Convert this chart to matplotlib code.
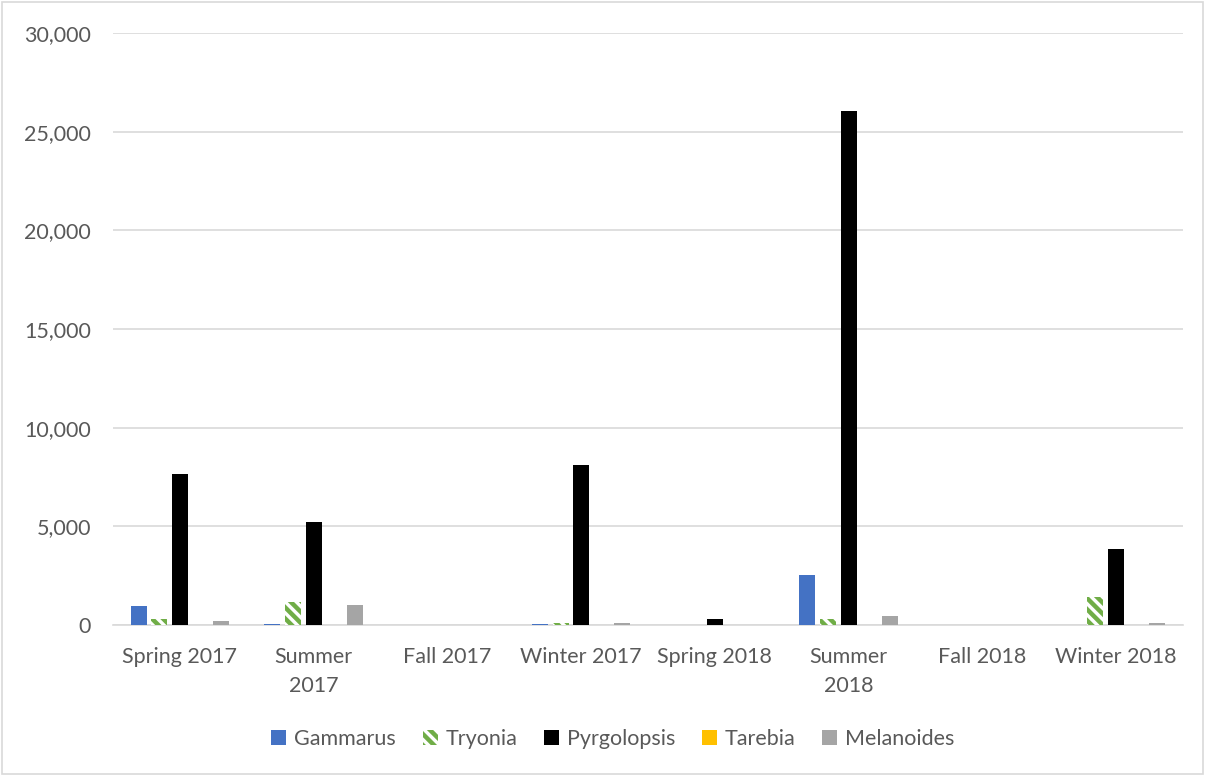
import matplotlib
matplotlib.use("Agg")
import matplotlib.pyplot as plt
import numpy as np
from matplotlib.ticker import FuncFormatter, MultipleLocator

categories = ["Spring 2017", "Summer\n2017", "Fall 2017", "Winter 2017",
              "Spring 2018", "Summer\n2018", "Fall 2018", "Winter 2018"]
series_names = ["Gammarus", "Tryonia", "Pyrgolopsis", "Tarebia", "Melanoides"]
gammarus = [950, 50, 0, 50, 0, 2530, 0, 0]
tryonia = [300, 1150, 0, 80, 0, 300, 0, 1400]
pyrgolopsis = [7650, 5220, 0, 8100, 300, 26050, 0, 3850]
tarebia = [0, 0, 0, 0, 0, 0, 0, 0]
melanoides = [220, 1030, 0, 100, 0, 470, 0, 80]

plt.rcParams['font.family'] = ['Lato', 'DejaVu Sans']
plt.rcParams['hatch.linewidth'] = 3.2

fig = plt.figure(figsize=(12.05, 7.76), dpi=100)
ax = fig.add_axes([0.0938, 0.1946, 0.8879, 0.7629])

x = np.arange(len(categories))
step = 20.6 / 133.75
width = 16 / 133.75
data = [gammarus, tryonia, pyrgolopsis, tarebia, melanoides]
colors = ["#4472C4", "white", "#000000", "#FFC000", "#A5A5A5"]
for i, (name, vals, c) in enumerate(zip(series_names, data, colors)):
    off = (i - 2) * step
    if name == "Tryonia":
        ax.bar(x + off, vals, width, facecolor="white", edgecolor="#70AD47",
               hatch="\\\\\\", linewidth=0, label=name, zorder=3)
    else:
        ax.bar(x + off, vals, width, color=c, label=name, zorder=3)

ax.set_xlim(-0.5, len(categories) - 0.5)
ax.set_ylim(0, 30000)
ax.yaxis.set_major_locator(MultipleLocator(5000))
ax.yaxis.set_major_formatter(FuncFormatter(lambda v, p: f"{int(v):,}"))
ax.set_xticks(x)
ax.set_xticklabels(categories, linespacing=1.55)
ax.grid(axis="y", color="#D9D9D9", linewidth=1.2, zorder=0)
for s in ["top", "right", "left"]:
    ax.spines[s].set_visible(False)
ax.spines["bottom"].set_color("#D9D9D9")
ax.spines["bottom"].set_linewidth(1.2)
ax.tick_params(axis="both", length=0, labelsize=15.5, labelcolor="#595959")
ax.tick_params(axis="y", pad=16)
ax.tick_params(axis="x", pad=16)

leg = ax.legend(loc="center", bbox_to_anchor=(0.467, -0.193), ncol=5, frameon=False,
                fontsize=15.5, handlelength=0.7, handleheight=0.7,
                handletextpad=0.35, columnspacing=1.25)
for t in leg.get_texts():
    t.set_color("#595959")

fig.patches.append(plt.Rectangle((0.002, 0.002), 0.996, 0.996, transform=fig.transFigure,
                                 fill=False, edgecolor="#D9D9D9", linewidth=1.2))
fig.savefig("out.png", dpi=100)
